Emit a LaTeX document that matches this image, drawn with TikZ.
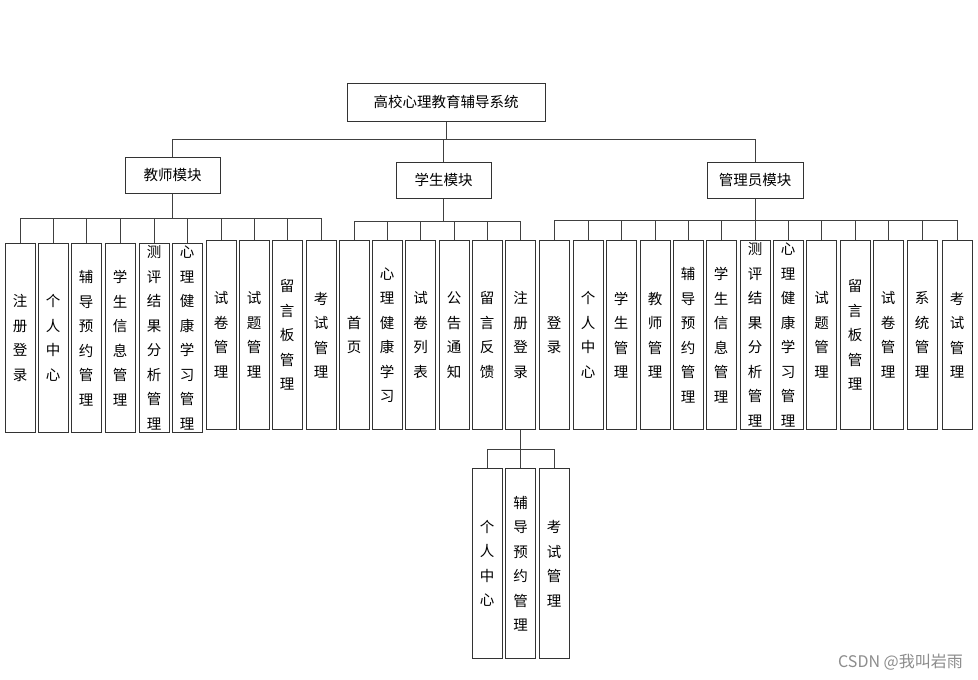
\documentclass[tikz,border=0pt]{standalone}
\usepackage{fontspec}
\newfontfamily\cjk{Noto Sans CJK SC}
\begin{document}
\begin{tikzpicture}[x=1pt,y=-1pt,
  box/.style={draw=black!80, line width=1pt, inner sep=0pt, font=\cjk\fontsize{14.5}{17}\selectfont},
  leaf/.style={draw=black!80, line width=1pt, minimum width=30pt, minimum height=189pt, inner sep=0pt, align=center, anchor=north, font=\cjk\fontsize{14.5}{24.5}\selectfont},
  conn/.style={draw=black!75, line width=1pt}]
\useasboundingbox (0,0) rectangle (978,680);
\fill[white] (0,0) rectangle (978,680);

\node[box, minimum width=198pt, minimum height=38pt] (root) at (446,102) {高校心理教育辅导系统};
\node[box, minimum width=95pt, minimum height=36pt] (tm) at (172.5,175) {教师模块};
\node[box, minimum width=95pt, minimum height=36pt] (sm) at (443.5,180) {学生模块};
\node[box, minimum width=96pt, minimum height=36pt] (am) at (755,180) {管理员模块};

\coordinate (rb) at (446,139);
\draw[conn] (root.south) -- (rb);
\draw[conn] (tm.north) |- (rb);
\draw[conn] (am.north) |- (rb);
\draw[conn] (sm.north) -- (sm.north |- rb);

% teacher
\coordinate (tb) at (172.5,218);
\draw[conn] (tm.south) -- (tb);
\foreach \n/\x/\y/\t in {
  t1/20/243/{注\\册\\登\\录},
  t2/53/243/{个\\人\\中\\心},
  t3/86/243/{辅\\导\\预\\约\\管\\理},
  t4/120/243/{学\\生\\信\\息\\管\\理},
  t5/154/243/{测\\评\\结\\果\\分\\析\\管\\理},
  t6/187/243/{心\\理\\健\\康\\学\\习\\管\\理},
  t7/221/240/{试\\卷\\管\\理},
  t8/254/240/{试\\题\\管\\理},
  t9/287/240/{留\\言\\板\\管\\理},
  t10/321/240/{考\\试\\管\\理}}{
  \node[leaf] (\n) at (\x,\y) {\t};
  \draw[conn] (\n.north) |- (tb);
}

% student
\coordinate (sb) at (443.5,221);
\draw[conn] (sm.south) -- (sb);
\foreach \n/\x/\t in {
  s1/354/{首\\页},
  s2/387/{心\\理\\健\\康\\学\\习},
  s3/420.5/{试\\卷\\列\\表},
  s4/454/{公\\告\\通\\知},
  s5/487/{留\\言\\反\\馈},
  s6/520.5/{注\\册\\登\\录}}{
  \node[leaf] (\n) at (\x,240) {\t};
  \draw[conn] (\n.north) |- (sb);
}

% admin
\coordinate (ab) at (755,220);
\draw[conn] (am.south) -- (ab);
\foreach \n/\x/\t in {
  a1/554/{登\\录},
  a2/588/{个\\人\\中\\心},
  a3/621/{学\\生\\管\\理},
  a4/655/{教\\师\\管\\理},
  a5/688/{辅\\导\\预\\约\\管\\理},
  a6/721/{学\\生\\信\\息\\管\\理},
  a7/755/{测\\评\\结\\果\\分\\析\\管\\理},
  a8/788/{心\\理\\健\\康\\学\\习\\管\\理},
  a9/821.5/{试\\题\\管\\理},
  a10/855/{留\\言\\板\\管\\理},
  a11/888/{试\\卷\\管\\理},
  a12/922/{系\\统\\管\\理},
  a13/957/{考\\试\\管\\理}}{
  \node[leaf] (\n) at (\x,240) {\t};
  \draw[conn] (\n.north) |- (ab);
}

% sub of 注册登录
\coordinate (ub) at (520.5,449);
\draw[conn] (s6.south) -- (ub);
\foreach \n/\x/\t in {
  u1/487/{个\\人\\中\\心},
  u2/520.5/{辅\\导\\预\\约\\管\\理},
  u3/554/{考\\试\\管\\理}}{
  \node[leaf, minimum height=190pt] (\n) at (\x,468) {\t};
  \draw[conn] (\n.north) |- (ub);
}

\node[anchor=east, inner sep=0pt, text=black!45, font=\cjk\fontsize{16}{18}\selectfont] (wm) at (963,662) {CSDN @我叫岩雨};
\end{tikzpicture}
\end{document}
